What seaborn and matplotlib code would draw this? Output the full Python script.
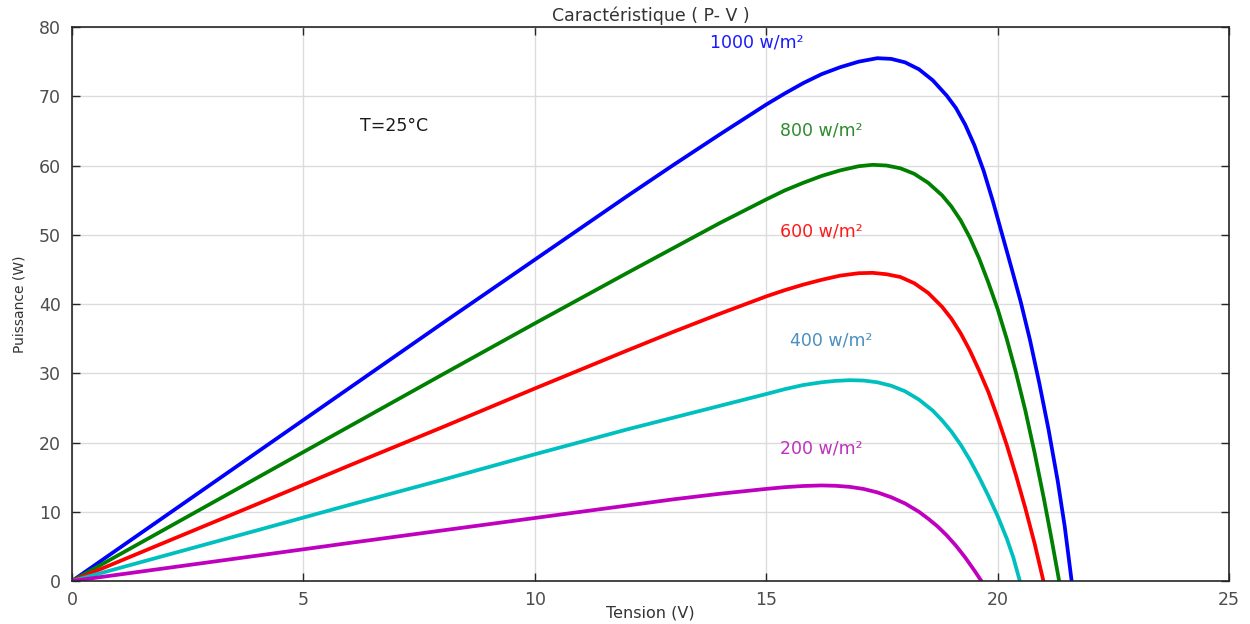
import matplotlib
matplotlib.use("Agg")
import matplotlib.pyplot as plt
import seaborn as sns
import pandas as pd

# Panel power versus voltage for five irradiance levels at T = 25 °C
irradiance_labels = ["1000 w/m²", "800 w/m²", "600 w/m²", "400 w/m²", "200 w/m²"]

v_1000 = [0, 2, 4, 6, 8, 10, 12, 13, 14, 15, 15.4, 15.8, 16.2, 16.6, 17.0, 17.4, 17.7,
          18.0, 18.3, 18.6, 18.9, 19.1, 19.3, 19.5, 19.7, 19.9, 20.1, 20.3, 20.5, 20.7,
          20.9, 21.1, 21.3, 21.45, 21.6]
p_1000 = [0, 9.3, 18.6, 27.9, 37.2, 46.4, 55.6, 60.1, 64.5, 68.8, 70.4, 71.9, 73.2, 74.2,
          75.0, 75.5, 75.4, 74.9, 73.9, 72.3, 70.1, 68.3, 65.9, 62.9, 59.2, 54.8, 50.0,
          45.2, 40.3, 34.8, 28.6, 21.9, 14.4, 7.9, 0]

v_800 = [0, 2, 4, 6, 8, 10, 12, 13, 14, 15, 15.4, 15.8, 16.2, 16.6, 17.0, 17.3, 17.6,
         17.9, 18.2, 18.5, 18.8, 19.0, 19.2, 19.4, 19.6, 19.8, 20.0, 20.2, 20.4, 20.6,
         20.8, 21.0, 21.17, 21.33]
p_800 = [0, 7.45, 14.9, 22.35, 29.8, 37.2, 44.5, 48.1, 51.7, 55.1, 56.4, 57.5, 58.5, 59.3,
         59.9, 60.1, 60.0, 59.6, 58.8, 57.5, 55.7, 54.1, 52.1, 49.6, 46.6, 43.1, 39.3,
         34.9, 30.0, 24.6, 18.5, 11.9, 5.9, 0]

v_600 = [0, 2, 4, 6, 8, 10, 12, 13, 14, 15, 15.4, 15.8, 16.2, 16.6, 17.0, 17.3, 17.6,
         17.9, 18.2, 18.5, 18.8, 19.0, 19.2, 19.4, 19.6, 19.8, 20.0, 20.2, 20.4, 20.6,
         20.8, 20.99]
p_600 = [0, 5.56, 11.1, 16.7, 22.2, 27.8, 33.3, 36.0, 38.6, 41.1, 42.0, 42.8, 43.5, 44.1,
         44.45, 44.5, 44.3, 43.9, 43.0, 41.6, 39.6, 37.9, 35.8, 33.3, 30.4, 27.3, 23.6,
         19.6, 15.2, 10.5, 5.4, 0]

v_400 = [0, 2, 4, 6, 8, 10, 12, 13, 14, 15, 15.4, 15.8, 16.2, 16.5, 16.8, 17.1, 17.4,
         17.7, 18.0, 18.3, 18.6, 18.8, 19.0, 19.2, 19.4, 19.6, 19.8, 20.0, 20.2, 20.34,
         20.48]
p_400 = [0, 3.66, 7.32, 11.0, 14.6, 18.3, 21.9, 23.6, 25.3, 27.0, 27.7, 28.3, 28.7, 28.9,
         29.0, 28.95, 28.7, 28.2, 27.4, 26.2, 24.6, 23.2, 21.6, 19.7, 17.5, 15.0, 12.3,
         9.4, 6.1, 3.4, 0]

v_200 = [0, 2, 4, 6, 8, 10, 12, 13, 14, 15, 15.4, 15.8, 16.2, 16.5, 16.8, 17.1, 17.4,
         17.7, 18.0, 18.3, 18.5, 18.7, 18.9, 19.1, 19.3, 19.5, 19.65]
p_200 = [0, 1.83, 3.66, 5.5, 7.3, 9.1, 10.9, 11.8, 12.6, 13.3, 13.55, 13.72, 13.8, 13.75,
         13.6, 13.3, 12.8, 12.1, 11.2, 10.0, 9.0, 7.9, 6.6, 5.1, 3.4, 1.5, 0]

line_colors = ["#0000ff", "#008000", "#ff0000", "#00bfbf", "#bf00bf"]
label_colors = ["#1a1aff", "#2e8b2e", "#ff1a1a", "#4a90c0", "#bf30bf"]
# label anchor points (V, W)
label_v = [14.8, 16.2, 16.2, 16.4, 16.2]
label_p = [77.7, 65.0, 50.4, 34.8, 19.1]

frames = []
for name, v, p in zip(irradiance_labels,
                      [v_1000, v_800, v_600, v_400, v_200],
                      [p_1000, p_800, p_600, p_400, p_200]):
    frames.append(pd.DataFrame({"Tension": v, "Puissance": p, "G": name}))
data = pd.concat(frames, ignore_index=True)

sns.set_theme(style="whitegrid")
plt.rcParams["font.family"] = ["DejaVu Sans"]

fig = plt.figure(figsize=(12.5, 6.24), dpi=100)
ax = fig.add_axes([0.0576, 0.0689, 0.9256, 0.8878])

sns.lineplot(data=data, x="Tension", y="Puissance", hue="G", hue_order=irradiance_labels,
             palette=dict(zip(irradiance_labels, line_colors)), sort=False,
             estimator=None, linewidth=2.7, legend=False, ax=ax)

ax.set_xlim(0, 25)
ax.set_ylim(0, 80)
ax.set_xticks([0, 5, 10, 15, 20, 25])
ax.set_yticks(range(0, 81, 10))

ax.set_facecolor("white")
ax.grid(True, color="#dcdcdc", linewidth=1.0)
for side in ["left", "right", "top", "bottom"]:
    ax.spines[side].set_visible(True)
    ax.spines[side].set_color("#262626")
    ax.spines[side].set_linewidth(1.2)

ax.tick_params(axis="both", which="both", direction="in", length=6, width=1.0,
               colors="#262626", labelcolor="#4d4d4d", labelsize=12.5,
               top=True, right=True, bottom=True, left=True)
ax.tick_params(axis="x", pad=7)
ax.tick_params(axis="y", pad=8)

ax.set_title("Caractéristique ( P- V )", fontsize=12.5, color="#333333", pad=4)
ax.set_xlabel("Tension (V)", fontsize=11.5, color="#333333", labelpad=-2)
ax.set_ylabel("Puissance (W)", fontsize=10, color="#333333", labelpad=9)

for text, x, y, c in zip(irradiance_labels, label_v, label_p, label_colors):
    ax.text(x, y, text, color=c, fontsize=12.5, ha="center", va="center")

ax.text(6.96, 65.7, "T=25°C", color="#1a1a1a", fontsize=12.5, ha="center", va="center")

fig.savefig("out.png", dpi=100, facecolor="white")
